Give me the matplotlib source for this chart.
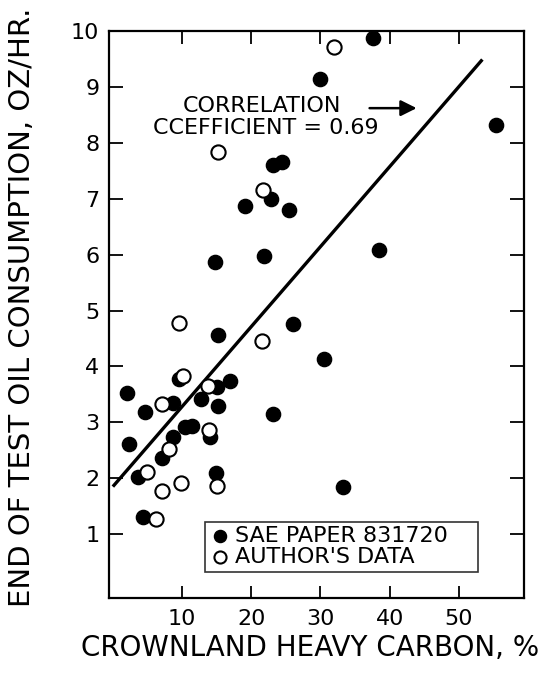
import numpy as np
import matplotlib.pyplot as plt

# SAE paper 831720 (filled)
sae_x = [37.6, 29.9, 23.2, 24.5, 22.9, 19.1, 25.5, 14.8, 21.9, 38.5, 55.4,
         15.2, 26.0, 30.5, 9.5, 2.1, 15.1, 17.0, 8.7, 4.7, 12.8, 15.2, 23.1,
         10.4, 11.4, 14.0, 2.4, 8.7, 7.1, 3.6, 14.9, 33.3, 4.4]
sae_y = [9.87, 9.15, 7.60, 7.66, 6.99, 6.87, 6.80, 5.86, 5.98, 6.08, 8.32,
         4.56, 4.76, 4.13, 3.77, 3.53, 3.63, 3.74, 3.35, 3.19, 3.41, 3.29, 3.15,
         2.92, 2.93, 2.73, 2.62, 2.73, 2.37, 2.03, 2.09, 1.85, 1.31]

# author's data (open)
auth_x = [31.9, 15.2, 21.7, 9.5, 21.6, 10.2, 13.8, 7.1, 13.9, 8.1, 4.9,
          9.9, 7.1, 15.1, 6.3]
auth_y = [9.72, 7.84, 7.16, 4.78, 4.46, 3.83, 3.65, 3.33, 2.86, 2.53, 2.12,
          1.91, 1.78, 1.86, 1.27]

fit_x = [0, 53.4]
fit_y = [1.85, 9.49]

x_ticks = [10, 20, 30, 40, 50]
y_ticks = [1, 2, 3, 4, 5, 6, 7, 8, 9, 10]

plt.rcParams['font.family'] = 'DejaVu Sans'

fig = plt.figure(figsize=(5.48, 6.74), dpi=100)
ax = fig.add_axes([0.199, 0.113, 0.757, 0.841])

ax.plot(fit_x, fit_y, color='black', lw=2.4, solid_capstyle='butt')
ax.scatter(sae_x, sae_y, s=105, color='black', zorder=3)
ax.scatter(auth_x, auth_y, s=105, facecolor='white', edgecolor='black',
           linewidths=1.5, zorder=4)

ax.set_xlim(-0.55, 59.4)
ax.set_ylim(-0.14, 10.0)
ax.set_xticks(x_ticks)
ax.set_yticks(y_ticks)
ax.tick_params(direction='in', width=1.3, top=True, right=True, labelsize=16)
ax.tick_params(axis='x', length=9, pad=8)
ax.tick_params(axis='y', length=10, pad=7)
for s in ax.spines.values():
    s.set_linewidth(1.6)

fig.text(310 / 548, 1 - 648 / 674, 'CROWNLAND HEAVY CARBON, %', fontsize=20,
         ha='center', va='center')
fig.text(22 / 548, 1 - 307 / 674, 'END OF TEST OIL CONSUMPTION, OZ/HR.',
         fontsize=21, rotation=90, ha='center', va='center')

ax.text(21.6, 8.66, 'CORRELATION', fontsize=16, ha='center', va='center')
ax.text(22.1, 8.26, 'CCEFFICIENT = 0.69', fontsize=16, ha='center', va='center')
ax.annotate('', xy=(44.3, 8.62), xytext=(36.7, 8.62),
            arrowprops=dict(arrowstyle='-|>', color='black', lw=1.8,
                            mutation_scale=24))

leg = ax.legend([ax.collections[0], ax.collections[1]],
                ['SAE PAPER 831720', "AUTHOR'S DATA"],
                loc='lower left', bbox_to_anchor=(0.231, 0.046, 0.658, 0.093),
                mode='expand', fontsize=16, frameon=True, fancybox=False,
                edgecolor='black', handletextpad=0.15, handlelength=1.0,
                borderpad=0.2, labelspacing=0.05, markerscale=0.85,
                borderaxespad=0)
leg.get_frame().set_linewidth(1.2)

fig.savefig('out.png', dpi=100)
